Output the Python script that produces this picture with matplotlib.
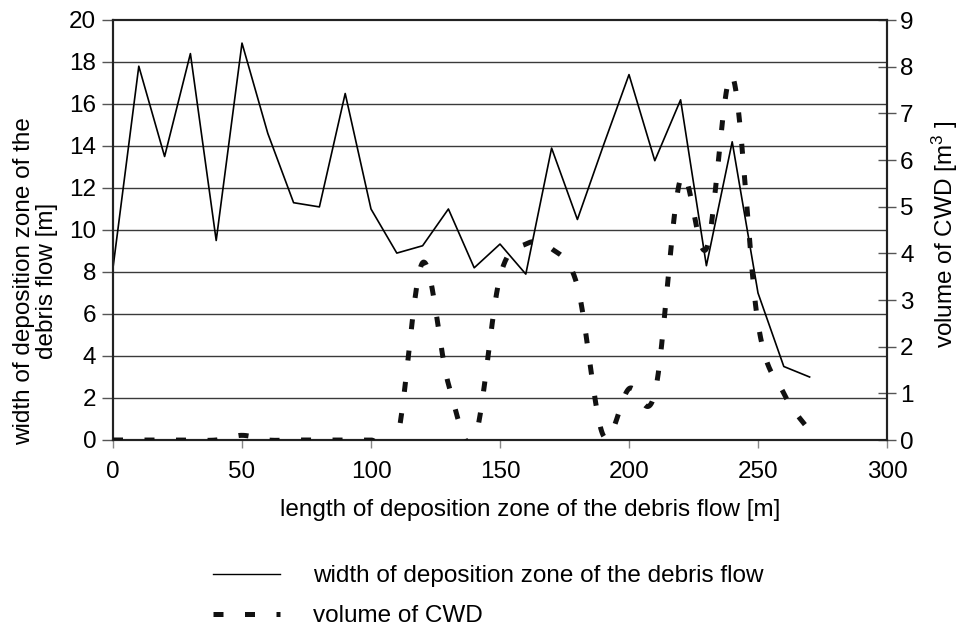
import numpy as np
import matplotlib
matplotlib.use("Agg")
import matplotlib.pyplot as plt
from matplotlib.lines import Line2D

plt.rcParams['font.family'] = ['Liberation Sans', 'DejaVu Sans']
plt.rcParams['mathtext.fontset'] = 'custom'
plt.rcParams['mathtext.rm'] = 'Liberation Sans'
plt.rcParams['mathtext.it'] = 'Liberation Sans'

length_m = [0, 10, 20, 30, 40, 50, 60, 70, 80, 90, 100, 110, 120, 130, 140,
            150, 160, 170, 180, 190, 200, 210, 220, 230, 240, 250, 260, 270]
width_m = [8.2, 17.8, 13.5, 18.4, 9.5, 18.9, 14.6, 11.3, 11.1, 16.5, 11.0, 8.9,
           9.25, 11.0, 8.2, 9.33, 7.9, 13.9, 10.5, 14.0, 17.4, 13.3, 16.2, 8.3,
           14.2, 7.0, 3.5, 3.0]
cwd_m3 = [0, 0, 0, 0, 0, 0.1, 0, 0, 0, 0, 0, 0, 3.8, 1.2, 0, 3.5, 4.2, 4.1,
          3.3, 0.1, 1.1, 1.0, 5.6, 4.1, 7.8, 2.5, 1.0, 0.2]

label_width = "width of deposition zone of the debris flow"
label_cwd = "volume of CWD"


def smooth(x, y, n=30):
    """Excel-like smoothed line (Bezier with Catmull-Rom handles)."""
    x = np.asarray(x, float)
    y = np.asarray(y, float)
    P = np.column_stack([x, y])
    out = []
    for i in range(len(P) - 1):
        p0 = P[i - 1] if i > 0 else P[i]
        p1 = P[i]
        p2 = P[i + 1]
        p3 = P[i + 2] if i + 2 < len(P) else P[i + 1]
        c1 = p1 + (p2 - p0) / 6.0
        c2 = p2 - (p3 - p1) / 6.0
        t = np.linspace(0, 1, n, endpoint=(i == len(P) - 2))[:, None]
        seg = ((1 - t) ** 3) * p1 + 3 * ((1 - t) ** 2) * t * c1 + 3 * (1 - t) * t ** 2 * c2 + t ** 3 * p2
        out.append(seg)
    S = np.vstack(out)
    return S[:, 0], S[:, 1]


fig = plt.figure(figsize=(9.71, 6.26), dpi=100)
ax = fig.add_axes([113 / 971, 1 - 440 / 626, (887 - 113) / 971, (440 - 20) / 626])
ax2 = ax.twinx()

ax.set_xlim(0, 300)
ax.set_ylim(0, 20)
ax2.set_ylim(0, 9)

ax.set_yticks(np.arange(0, 21, 2))
ax.set_xticks(np.arange(0, 301, 50))
ax2.set_yticks(np.arange(0, 10, 1))

for yv in np.arange(2, 20, 2):
    ax.axhline(yv, color='#3a3a3a', lw=1.0, zorder=0)

dash = (0, (2.0, 4.3))
ax.plot(length_m, width_m, color='black', lw=1.2, zorder=3)
sx, sy = smooth(length_m, cwd_m3)
ax2.plot(sx, sy, color='#111111', lw=3.6, linestyle=dash,
         solid_capstyle='butt', dash_capstyle='butt', zorder=3)

fs = 17.5
for a in (ax, ax2):
    for s in a.spines.values():
        s.set_linewidth(1.5)
        s.set_color('#222222')
ax.tick_params(axis='y', direction='out', length=8, width=1, color='#555555',
               labelsize=fs, pad=4)
ax.tick_params(axis='x', direction='out', length=6, width=1, color='#888888',
               labelsize=fs, pad=9)
ax2.tick_params(axis='y', direction='inout', length=13, width=1, color='#555555',
                labelsize=fs, pad=3)

ax.set_xlabel("length of deposition zone of the debris flow [m]", fontsize=fs)
ax.xaxis.set_label_coords(0.539, -0.166)
ax.xaxis.label.set_va('center')
ax.set_ylabel("width of deposition zone of the\ndebris flow [m]", fontsize=fs,
              linespacing=1.05)
ax.yaxis.set_label_coords(-0.100, 0.379)
ax.yaxis.label.set_va('center')
ax2.set_ylabel("volume of CWD [m$^{3}$ ]", fontsize=fs)
ax2.yaxis.set_label_coords(1.075, 0.49)
ax2.yaxis.label.set_va('center')

handles = [Line2D([], [], color='black', lw=1.0),
           Line2D([], [], color='#111111', lw=3.6, linestyle=dash)]
fig.legend(handles, [label_width, label_cwd], loc='upper left',
           bbox_to_anchor=(213 / 971, 1 - 565 / 626), frameon=False,
           borderpad=0, borderaxespad=0,
           fontsize=fs, handlelength=2.76, handletextpad=1.36, labelspacing=0.74)

fig.savefig("out.png", dpi=100)
